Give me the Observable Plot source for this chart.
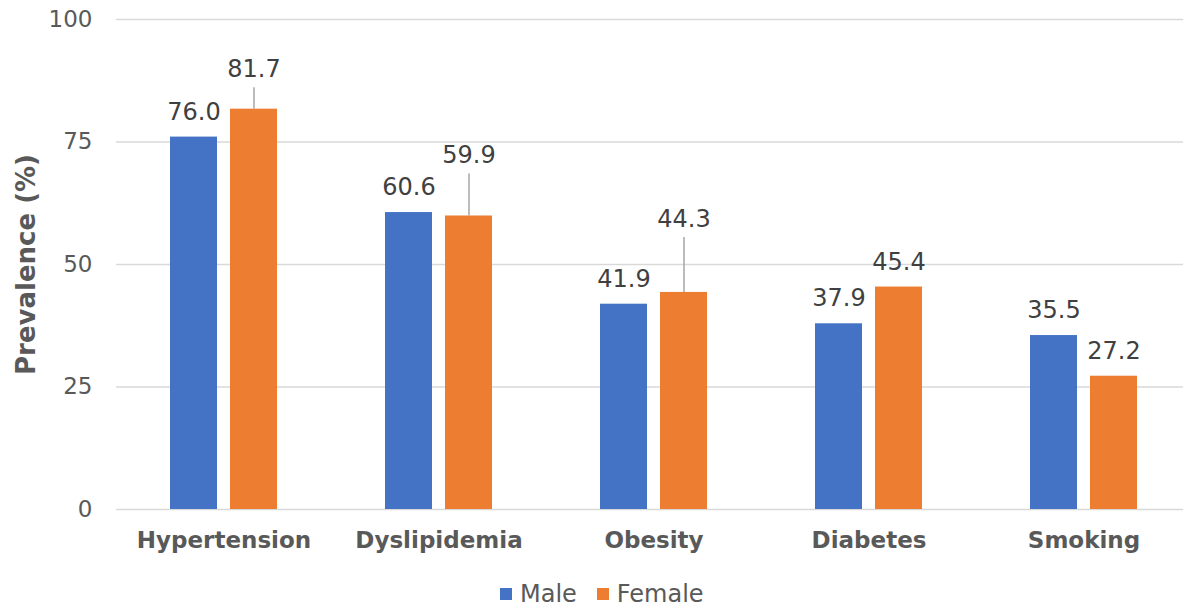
<!DOCTYPE html>
<html>
<head>
<meta charset="utf-8">
<script src="https://cdn.jsdelivr.net/npm/d3@7"></script>
<script src="https://cdn.jsdelivr.net/npm/@observablehq/plot@0.6"></script>
<style>
  html, body { margin: 0; padding: 0; background: #ffffff; overflow: hidden; width: 1183px; height: 606px; }
  #chart { position: relative; width: 1183px; height: 606px; overflow: hidden; }
  #chart > svg { max-width: none !important; }
  #legend { position: absolute; left: 500px; top: 577px; }
  .lg-swatch { margin-right: 20px !important; }
  .lg-swatch > svg { margin-right: 8px !important; }
</style>
</head>
<body>
<div id="chart"></div>
<script>
// ---- data ----
const categories = ["Hypertension", "Dyslipidemia", "Obesity", "Diabetes", "Smoking"];
const sexes = ["Male", "Female"];
const maleValues = [76.0, 60.6, 41.9, 37.9, 35.5];
const femaleValues = [81.7, 59.9, 44.3, 45.4, 27.2];
const yTicks = [0, 25, 50, 75, 100];
const yTitle = "Prevalence (%)";

// ---- style ----
const colors = ["#4472C4", "#ED7D31"];
const FONT = "'DejaVu Sans', Verdana, sans-serif";
const plotHeight = 570, marginTop = 19, marginBottom = 61;
const unitsPerPx = 100 / (plotHeight - marginTop - marginBottom);
// label lift (px above the bar top) for the female labels that Excel moved up
const femaleLift = {Hypertension: 40, Dyslipidemia: 60.5, Obesity: 73.5, Diabetes: 25, Smoking: 25};
const baseLift = 25;
const liftOf = d => d.sex === "Female" ? femaleLift[d.category] : baseLift;

const table = categories.flatMap((c, i) => [
  {category: c, sex: "Male", value: maleValues[i]},
  {category: c, sex: "Female", value: femaleValues[i]}
]);

const chart = Plot.plot({
  width: 1191,
  height: plotHeight,
  marginLeft: 116,
  marginRight: 0,
  marginTop,
  marginBottom,
  style: {fontFamily: FONT, fontSize: "23px", color: "#595959", background: "#ffffff", overflow: "visible", maxWidth: "none"},
  facet: {data: table, x: "category"},
  fx: {domain: categories, padding: 0, axis: null},
  x: {domain: sexes, paddingInner: 0.2131, paddingOuter: 0.869, axis: null},
  y: {domain: [0, 100], ticks: yTicks, tickSize: 0, tickPadding: 24,
      label: yTitle, labelAnchor: "center", labelOffset: 100},
  color: {domain: sexes, range: colors},
  marks: [
    Plot.ruleY(yTicks, {stroke: "#d9d9d9", strokeWidth: 1.5}),
    Plot.barY(table, {x: "sex", y: "value", fill: "sex"}),
    Plot.ruleX(table, {
      filter: d => liftOf(d) > baseLift,
      x: "sex",
      y1: "value",
      y2: d => d.value + (liftOf(d) - 18.5) * unitsPerPx,
      stroke: "#a6a6a6", strokeWidth: 1.5
    }),
    Plot.text(table, {
      x: "sex",
      y: d => d.value + liftOf(d) * unitsPerPx,
      text: d => d.value.toFixed(1),
      fill: "#404040",
      fontSize: 24
    }),
    Plot.text(table, {
      filter: d => d.sex === "Male",
      text: "category",
      frameAnchor: "bottom",
      lineAnchor: "middle",
      dy: 31,
      fontWeight: "bold",
      fontSize: 23,
      fill: "#595959"
    })
  ]
});

// y-axis title: bold, without the direction arrow
chart.querySelectorAll("text").forEach(t => {
  if (t.textContent.indexOf(yTitle) >= 0 && t.textContent.trim() !== yTitle) {
    t.textContent = yTitle;
  }
  if (t.textContent.trim() === yTitle) {
    t.setAttribute("font-weight", "bold");
    t.style.fontWeight = "bold";
    t.style.fontSize = "26px";
  }
});

const legend = Plot.legend({
  legend: "swatches",
  color: {domain: sexes, range: colors},
  swatchSize: 12,
  className: "lg",
  style: {fontFamily: FONT, fontSize: "24px", color: "#595959"}
});
const legendWrap = document.createElement("div");
legendWrap.id = "legend";
legendWrap.appendChild(legend);

const root = document.getElementById("chart");
root.appendChild(chart);
root.appendChild(legendWrap);
</script>
</body>
</html>
